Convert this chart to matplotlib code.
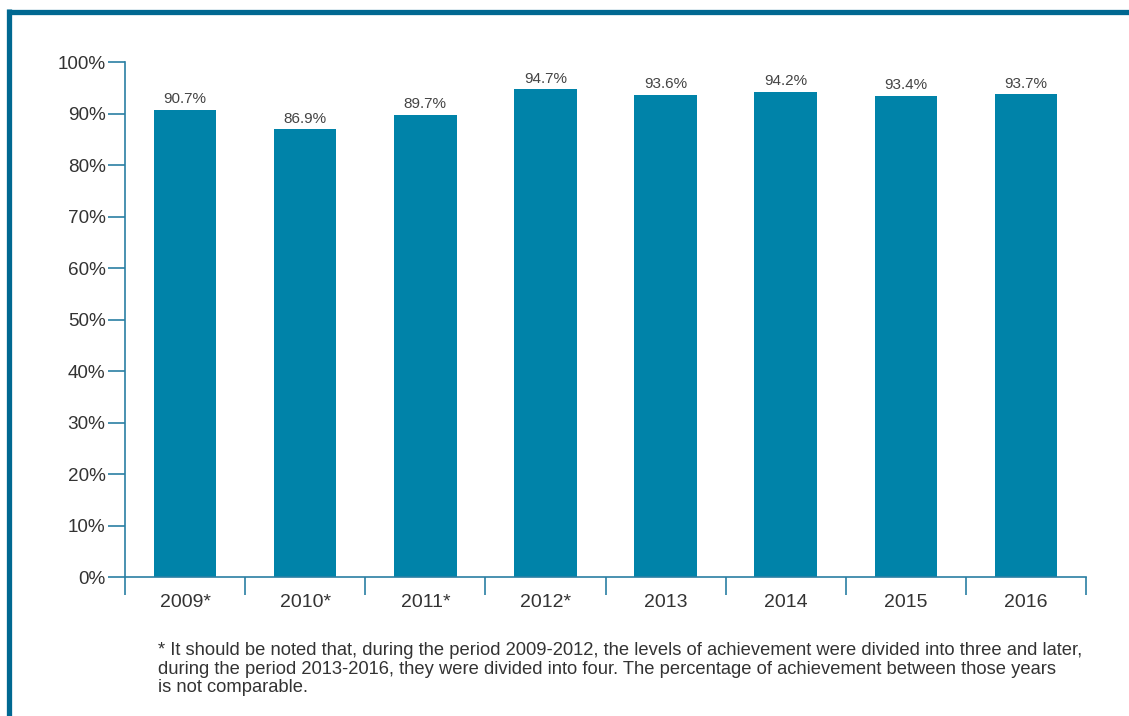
import matplotlib.pyplot as plt
import matplotlib.lines as mlines
import numpy as np

# achievement rate by year
years = ['2009*', '2010*', '2011*', '2012*', '2013', '2014', '2015', '2016']
rates = [90.7, 86.9, 89.7, 94.7, 93.6, 94.2, 93.4, 93.7]
yticks = [0, 10, 20, 30, 40, 50, 60, 70, 80, 90, 100]

note = ("* It should be noted that, during the period 2009-2012, the levels of achievement were divided into three and later,\n"
        "during the period 2013-2016, they were divided into four. The percentage of achievement between those years\n"
        "is not comparable.")

plt.rcParams['font.family'] = ['Liberation Sans', 'DejaVu Sans']

bar_col = '#0083a9'
axis_col = '#2a7fa3'
txt_col = '#333333'

W, H = 1129, 716
fig = plt.figure(figsize=(W/100, H/100), dpi=100)
ax = fig.add_axes([125/W, 1-577/H, (1086-125)/W, (577-62)/H])

x = np.arange(len(years))
ax.bar(x, rates, width=0.52, color=bar_col, zorder=2)
for xi, r in zip(x, rates):
    ax.text(xi, r + 0.7, '%.1f%%' % r, ha='center', va='bottom', fontsize=11, color='#444444')

ax.set_xlim(-0.5, len(years) - 0.5)
ax.set_ylim(0, 100)
ax.set_yticks(yticks)
ax.set_yticklabels(['%d%%' % v for v in yticks], fontsize=13.6, color=txt_col)

# category boundaries as ticks, labels centred in between
ax.set_xticks(np.arange(len(years) + 1) - 0.5)
ax.set_xticklabels([])
ax.set_xticks(x, minor=True)
ax.set_xticklabels(years, minor=True, fontsize=14, color=txt_col)
ax.tick_params(axis='x', which='minor', length=0, pad=12)
ax.tick_params(axis='x', which='major', length=13, width=1.2, color=axis_col, direction='out')
ax.tick_params(axis='y', length=12, width=1.2, color=axis_col, pad=2)

for s in ['top', 'right']:
    ax.spines[s].set_visible(False)
for s in ['left', 'bottom']:
    ax.spines[s].set_color(axis_col)
    ax.spines[s].set_linewidth(1.2)

fig.text(158/W, 1-642/H, note, fontsize=13.25, color=txt_col, va='top', ha='left', linespacing=1.12)

# frame along top and left edges
frame_col = '#006891'
fig.add_artist(mlines.Line2D([7/W, 1], [1-11.5/H, 1-11.5/H], color=frame_col, lw=3.8, solid_capstyle='butt'))
fig.add_artist(mlines.Line2D([9/W, 9/W], [1-9/H, 0], color=frame_col, lw=3.8, solid_capstyle='butt'))

fig.savefig('out.png', dpi=100)
